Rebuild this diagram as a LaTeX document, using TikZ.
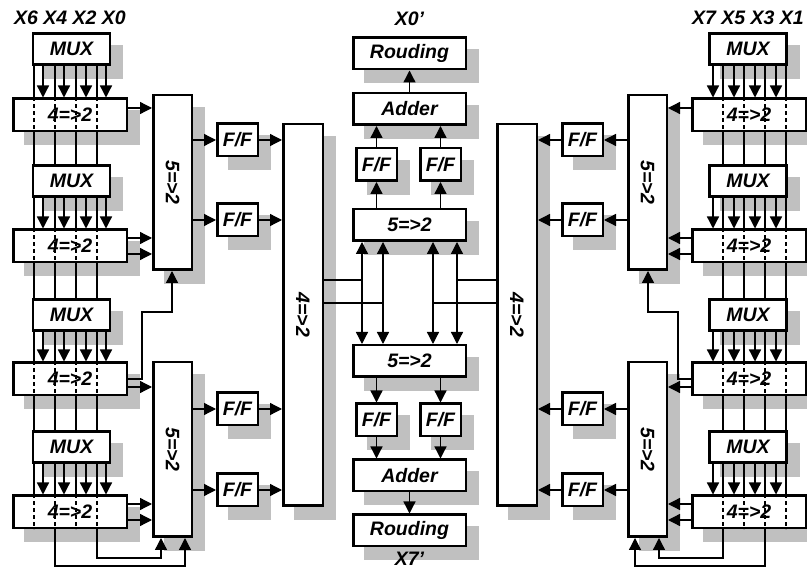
\documentclass[tikz,border=0pt]{standalone}
\usepackage{fontspec}
\setmainfont{Liberation Sans}
\usetikzlibrary{positioning,calc,arrows.meta,backgrounds}
\definecolor{shadegray}{RGB}{192,192,192}
\newcommand{\vlab}[1]{\rotatebox{-90}{#1}}

\begin{document}
\begin{tikzpicture}[x=1pt,y=-1pt,font=\fontsize{19.5}{22}\selectfont\bfseries\itshape,
    >={Triangle[length=12pt,width=12pt]},
    blk/.style={draw,line width=2.5pt,fill=white,inner sep=0pt},
    mux/.style={blk,minimum width=77pt,minimum height=31pt},
    cpr/.style={blk,minimum width=113.5pt,minimum height=32.5pt},
    fvb/.style={blk,minimum width=38.5pt,minimum height=174.5pt},
    ffb/.style={blk,minimum width=40.5pt,minimum height=32.5pt},
    wide/.style={blk,minimum width=112.5pt,minimum height=31.5pt},
    tall/.style={blk,minimum width=39.5pt,minimum height=381.5pt},
    bus/.style={line width=1.3pt},
    arr/.style={bus,->},
    dsh/.style={bus,dash pattern=on 4pt off 3pt}]
  \useasboundingbox (0,0) rectangle (807,569);

  % input rows: MUX over a 4=>2
  \foreach \r/\ym/\yc in {1/49/115,2/181/246,3/315/379,4/447/512}{
    \node[mux] (mxL\r) at (71.5,\ym) {MUX};
    \node[cpr] (cpL\r) at (70,\yc) {4=>2};
    \node[mux] (mxR\r) at (748,\ym) {MUX};
    \node[cpr] (cpR\r) at (749,\yc) {4=>2};
  }
  \node[fvb] (fvL1) at (172.5,182.5) {\vlab{5=>2}};
  \node[fvb] (fvL2) at (172.5,449.5) {\vlab{5=>2}};
  \node[fvb] (fvR1) at (647.5,182.5) {\vlab{5=>2}};
  \node[fvb] (fvR2) at (647.5,449.5) {\vlab{5=>2}};
  \foreach \k/\y in {1/140,2/220,3/409,4/490}{
    \node[ffb] (ffL\k) at (237.5,\y) {F/F};
    \node[ffb] (ffR\k) at (582.5,\y) {F/F};
  }
  \node[tall] (bigL) at (303,315) {\vlab{4=>2}};
  \node[tall] (bigR) at (517,315) {\vlab{4=>2}};

  % middle column
  \node[wide] (rdT) at (409.5,53.5) {Rouding};
  \node[wide] (adT) at (409.5,109) {Adder};
  \node[ffb] (ffTa) at (376.5,164.5) {F/F};
  \node[ffb] (ffTb) at (440.5,164.5) {F/F};
  \node[wide] (fvT) at (409.5,225) {5=>2};
  \node[wide] (fvB) at (409.5,361) {5=>2};
  \node[ffb] (ffBa) at (376.5,420) {F/F};
  \node[ffb] (ffBb) at (440.5,420) {F/F};
  \node[wide] (adB) at (409.5,475.5) {Adder};
  \node[wide] (rdB) at (409.5,530.5) {Rouding};

  \node (inL) at (70,18) {X6 X4 X2 X0};
  \node (inR) at (748,18) {X7 X5 X3 X1};
  \node (outT) at (409.5,18.5) {X0'};
  \node[inner sep=0pt] (outB) at (409.5,559) {X7'};

  % shadows
  \begin{scope}[on background layer]
    \fill[white] (0,0) rectangle (807,569);
    \foreach \n in {rdT,adT,ffTa,ffTb,fvT,fvB,ffBa,ffBb,adB,rdB,bigL,bigR,fvL1,fvL2,fvR1,fvR2}
      \fill[shadegray] ([shift={(12,13)}]\n.north west) rectangle ([shift={(12,13)}]\n.south east);
    \foreach \s in {L,R}
      \foreach \k in {1,...,4}
        \foreach \n in {mx\s\k,cp\s\k,ff\s\k}
          \fill[shadegray] ([shift={(12,13)}]\n.north west) rectangle ([shift={(12,13)}]\n.south east);
  \end{scope}

  % pass-through lines and MUX outputs
  \foreach \s/\xs/\as in {L/{34,55,76,97}/{43,64,86,106},R/{723,744,765,786}/{713,734,755,776}}{
    \foreach \r in {1,...,4}{
      \foreach \x in \xs{
        \draw[bus] (\x,0 |- mx\s\r.south) -- (\x,0 |- cp\s\r.north);
        \draw[dsh] (\x,0 |- cp\s\r.north) -- (\x,0 |- cp\s\r.south);
      }
      \foreach \x in \as
        \draw[arr] (\x,0 |- mx\s\r.south) -- (\x,0 |- cp\s\r.north);
    }
    \foreach \r/\n in {1/2,2/3,3/4}
      \foreach \x in \xs
        \draw[bus] (\x,0 |- cp\s\r.south) -- (\x,0 |- mx\s\n.north);
  }

  % 4=>2 into 5=>2
  \foreach \r/\f/\y in {1/1/108,2/1/238,2/1/254,3/2/387,4/2/504,4/2/520}{
    \draw[arr] (cpL\r.east |- 0,\y) -- (fvL\f.west |- 0,\y);
    \draw[arr] (cpR\r.west |- 0,\y) -- (fvR\f.east |- 0,\y);
  }
  \draw[arr] (cpL3.east) -| (142,312) -| (172,0 |- fvL1.south);
  \draw[arr] (cpR3.west) -| (678,312) -| (648,0 |- fvR1.south);
  \draw[arr] (97,0 |- cpL4.south) |- (161,558) -- (161,0 |- fvL2.south);
  \draw[arr] (55,0 |- cpL4.south) |- (185,566) -- (185,0 |- fvL2.south);
  \draw[arr] (723,0 |- cpR4.south) |- (659,558) -- (659,0 |- fvR2.south);
  \draw[arr] (765,0 |- cpR4.south) |- (635,566) -- (635,0 |- fvR2.south);

  % 5=>2 -> F/F -> big 4=>2
  \foreach \k/\f in {1/1,2/1,3/2,4/2}{
    \draw[arr] (fvL\f.east |- ffL\k) -- (ffL\k.west);
    \draw[arr] (ffL\k.east) -- (ffL\k.east -| bigL.west);
    \draw[arr] (fvR\f.west |- ffR\k) -- (ffR\k.east);
    \draw[arr] (ffR\k.west) -- (ffR\k.west -| bigR.east);
  }

  % shared buses to both middle 5=>2
  \foreach \x in {362,383,433,457}
    \draw[bus,<->] (\x,0 |- fvT.south) -- (\x,0 |- fvB.north);
  \draw[bus] (bigL.east |- 0,280) -- (362,280);
  \draw[bus] (bigL.east |- 0,303) -- (383,303);
  \draw[bus] (bigR.west |- 0,280) -- (457,280);
  \draw[bus] (bigR.west |- 0,303) -- (433,303);

  % middle column chains
  \draw[arr] (adT) -- (rdT);
  \draw[arr] (adB) -- (rdB);
  \foreach \f in {ffTa,ffTb}{
    \draw[arr] (\f |- fvT.north) -- (\f);
    \draw[arr] (\f) -- (\f |- adT.south);
  }
  \foreach \f in {ffBa,ffBb}{
    \draw[arr] (\f |- fvB.south) -- (\f);
    \draw[arr] (\f) -- (\f |- adB.north);
  }
\end{tikzpicture}
\end{document}
